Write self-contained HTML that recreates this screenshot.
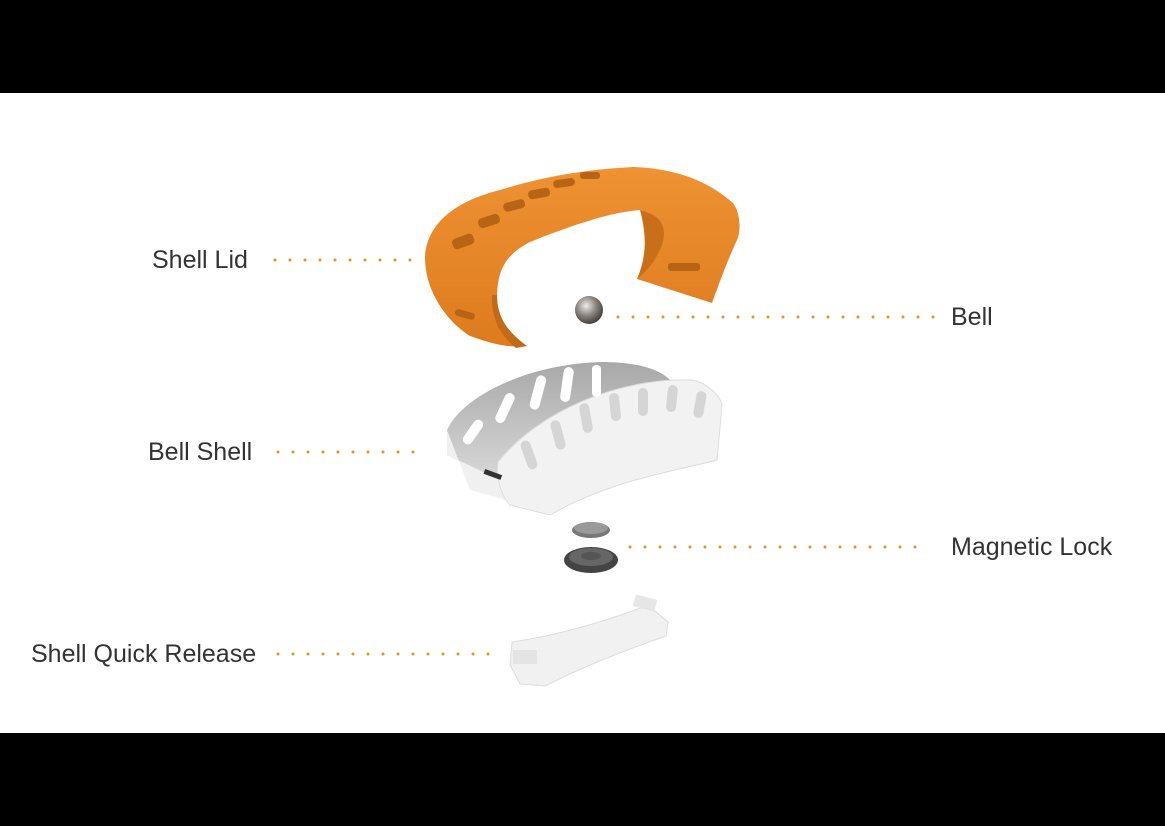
<!DOCTYPE html>
<html><head><style>
body{margin:0;width:1165px;height:826px;background:#000;overflow:hidden;font-family:"Liberation Sans",sans-serif}
svg{display:block}
</style></head><body>
<svg width="1165" height="826" viewBox="0 0 1165 826">
<defs>
<radialGradient id="ball" cx="0.4" cy="0.35" r="0.7"><stop offset="0" stop-color="#eee"/><stop offset="0.5" stop-color="#8a8580"/><stop offset="1" stop-color="#3a3633"/></radialGradient>
<linearGradient id="or" x1="0" y1="0" x2="0" y2="1"><stop offset="0" stop-color="#ee9233"/><stop offset="1" stop-color="#dd7b1e"/></linearGradient>
<linearGradient id="gw" x1="0" y1="0" x2="0" y2="1"><stop offset="0" stop-color="#a8a8a8"/><stop offset="1" stop-color="#d8d8d8"/></linearGradient>
</defs>
<rect x="0" y="93" width="1165" height="640" fill="#fff"/>
<g stroke="#e8921f" stroke-width="3" stroke-linecap="round" stroke-dasharray="0 15">
<line x1="275" y1="260" x2="418" y2="260"/>
<line x1="618" y1="317" x2="935" y2="317"/>
<line x1="278" y1="452" x2="420" y2="452"/>
<line x1="630" y1="547" x2="930" y2="547"/>
<line x1="278" y1="654" x2="490" y2="654"/>
</g>
<g font-size="25" fill="#333" font-weight="300">
<text x="152" y="268">Shell Lid</text>
<text x="951" y="325">Bell</text>
<text x="148" y="460">Bell Shell</text>
<text x="951" y="555">Magnetic Lock</text>
<text x="31" y="662">Shell Quick Release</text>
</g>
<path d="M425,257 C426,235 440,205 500,190 C540,178 577,170 633,167 C670,168 705,178 733,203 C742,215 740,235 737,240 C730,255 722,275 712,303 L637,279 C650,265 660,253 662,240 C665,225 660,215 640,210 C610,212 567,227 530,242 C505,255 498,270 497,295 C497,315 505,330 527,346 C505,348 490,343 470,336 C445,320 425,290 425,257 Z" fill="url(#or)"/>
<path d="M640,210 C660,215 668,225 662,245 C655,262 648,270 637,279 C645,260 648,240 640,210 Z" fill="#c96f1a"/>
<path d="M497,295 C497,315 505,330 527,346 L516,348 C500,335 491,318 492,295 Z" fill="#c36a16"/>
<g fill="#b86414">
<rect x="452" y="236" width="22" height="11" rx="4" transform="rotate(-20 463 241)"/>
<rect x="478" y="216" width="22" height="10" rx="4" transform="rotate(-18 489 221)"/>
<rect x="503" y="201" width="22" height="9" rx="4" transform="rotate(-14 514 205)"/>
<rect x="528" y="189" width="22" height="9" rx="4" transform="rotate(-10 539 193)"/>
<rect x="553" y="179" width="22" height="8" rx="4" transform="rotate(-8 564 183)"/>
<rect x="580" y="172" width="20" height="7" rx="3"/>
<rect x="668" y="263" width="32" height="8" rx="3"/>
<rect x="455" y="311" width="20" height="7" rx="3" transform="rotate(15 465 314)"/>
</g>
<circle cx="589" cy="310" r="14" fill="url(#ball)"/>
<path d="M447,430 C460,400 520,365 600,362 C640,362 660,370 670,380 L500,480 L447,455 Z" fill="url(#gw)"/>
<path d="M447,430 L447,455 L500,480 L505,500 L470,490 Z" fill="#f0f0f0"/>
<path d="M498,462 C540,410 620,378 690,380 C705,381 720,395 722,405 L717,460 C680,470 610,480 550,515 L510,505 C500,495 496,475 498,462 Z" fill="#f2f2f2" stroke="#ddd"/>
<g fill="#fff">
<rect x="468" y="418" width="10" height="28" rx="5" transform="rotate(35 473 432)"/>
<rect x="500" y="392" width="10" height="32" rx="5" transform="rotate(25 505 408)"/>
<rect x="533" y="375" width="10" height="35" rx="5" transform="rotate(15 538 392)"/>
<rect x="562" y="367" width="10" height="35" rx="5" transform="rotate(8 567 384)"/>
<rect x="592" y="365" width="9" height="32" rx="4"/>
</g>
<g fill="#d5d5d5">
<rect x="524" y="440" width="10" height="30" rx="5" transform="rotate(-20 529 455)"/>
<rect x="553" y="420" width="10" height="30" rx="5" transform="rotate(-15 558 435)"/>
<rect x="581" y="403" width="10" height="30" rx="5" transform="rotate(-10 586 418)"/>
<rect x="610" y="393" width="10" height="28" rx="5" transform="rotate(-6 615 407)"/>
<rect x="638" y="388" width="10" height="28" rx="5"/>
<rect x="667" y="385" width="10" height="27" rx="5" transform="rotate(6 672 398)"/>
<rect x="695" y="391" width="10" height="27" rx="5" transform="rotate(10 700 404)"/>
</g>
<rect x="484" y="472" width="18" height="5" fill="#333" transform="rotate(20 493 474)"/>
<ellipse cx="591" cy="530" rx="19" ry="8" fill="#777"/>
<ellipse cx="591" cy="528" rx="17" ry="6" fill="#999"/>
<ellipse cx="591" cy="560" rx="27" ry="13" fill="#444"/>
<ellipse cx="591" cy="557" rx="22" ry="9" fill="#666"/>
<ellipse cx="591" cy="556" rx="10" ry="4" fill="#555"/>
<path d="M512,642 C560,635 610,620 648,605 L668,622 L666,636 C620,652 580,668 545,686 L520,684 L510,665 Z" fill="#f1f1f1" stroke="#ddd"/>
<rect x="634" y="597" width="22" height="12" fill="#e6e6e6" transform="rotate(15 645 603)"/>
<rect x="513" y="650" width="24" height="14" fill="#e4e4e4"/>
</svg>
</body></html>
